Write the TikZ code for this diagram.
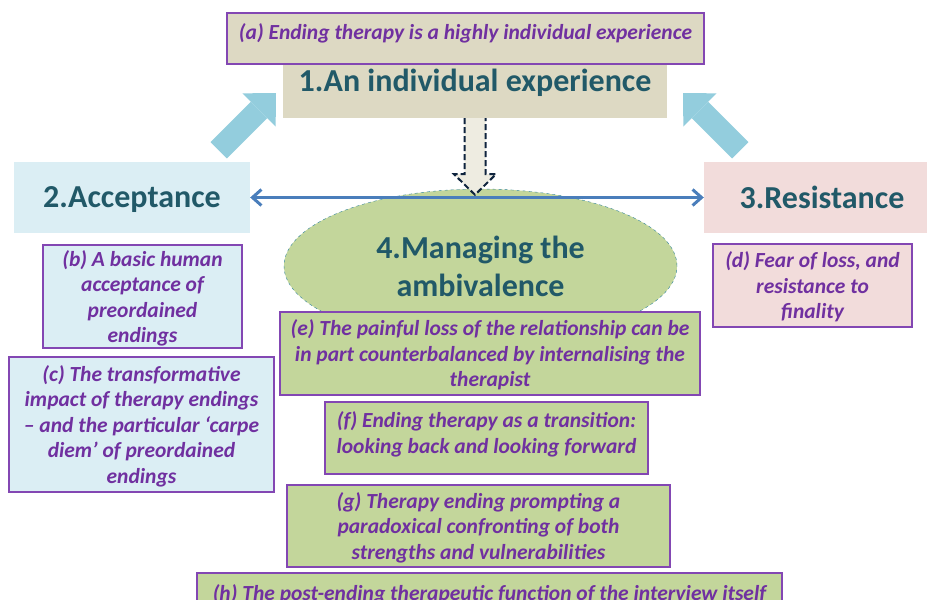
\documentclass[tikz,border=0pt]{standalone}
\usepackage{fontspec}
\setmainfont{Carlito}
\usetikzlibrary{shapes.geometric}
\usetikzlibrary{arrows.meta}
\usetikzlibrary{calc}

\definecolor{beige}{HTML}{DDD9C3}
\definecolor{paleblue}{HTML}{DBEEF4}
\definecolor{palepink}{HTML}{F2DCDB}
\definecolor{palegreen}{HTML}{C3D69B}
\definecolor{skyarrow}{HTML}{93CDDD}
\definecolor{lineblue}{HTML}{4A7EBB}
\definecolor{headteal}{HTML}{215968}
\definecolor{txtpurple}{HTML}{7030A0}
\definecolor{boxpurple}{HTML}{8347B3}
\definecolor{rimteal}{HTML}{31849B}
\definecolor{navy}{HTML}{0F243E}
\definecolor{stone}{HTML}{EEECE1}

\begin{document}
\begin{tikzpicture}
[x=1pt,y=-1pt,%
  headbox/.style={shape=rectangle,inner sep=0pt,text=headteal,align=center,text depth=-3pt,%
    font=\fontsize{32}{38}\selectfont\bfseries},%
  subbox/.style={shape=rectangle,inner sep=0pt,draw=boxpurple,line width=1.5pt,text depth=-2pt,%
    text=txtpurple,align=center,font=\fontsize{21.5}{25.5}\selectfont\bfseries\itshape},%
  bigarrow/.style={line width=23pt,draw=skyarrow,%
    -{Triangle[length=24pt,width=47pt,line width=0pt]}},%
  twoway/.style={line width=3pt,draw=lineblue,%
    {Straight Barb[length=9pt,width=16pt]}-{Straight Barb[length=9pt,width=16pt]}}]
\useasboundingbox (0,0) rectangle (927,600);
%% the four themes
\node[headbox,fill=beige,minimum width=384,minimum height=76] (n1) at (475,80)
  {1.An individual experience};
\node[headbox,fill=paleblue,minimum width=236,minimum height=71] (n2) at (132,197.5)
  {2.Acceptance};
\node[headbox,fill=palepink,minimum width=236,minimum height=71] (n3) at (822,197.5)
  {3.Resistance};
\node[headbox,shape=ellipse,fill=palegreen,draw=rimteal,dashed,thin,text depth=-6pt,%
  minimum width=393,minimum height=154] (n4) at (480.5,266)
  {4.Managing the\\ambivalence};
%%
\node[subbox,fill=beige,minimum width=477,minimum height=51,text depth=14pt] (a) at (465.5,38.5)
  {(a) Ending therapy is a highly individual experience};
%%
\node[subbox,fill=paleblue,minimum width=199,minimum height=103,text depth=-6pt] (b) at (142.5,296.5)
  {(b) A basic human\\acceptance of\\preordained\\endings};
\node[subbox,fill=paleblue,minimum width=265,minimum height=135] (c) at (141.5,424.5)
  {(c) The transformative\\impact of therapy endings\\– and the particular ‘carpe\\diem’ of preordained\\endings};
%%
\node[subbox,fill=palepink,minimum width=199,minimum height=83,text depth=-6pt] (d) at (812.5,285.5)
  {(d) Fear of loss, and\\resistance to\\finality};
%%
\node[subbox,fill=palegreen,minimum width=420,minimum height=83] (e) at (490,353.5)
  {(e) The painful loss of the relationship can be\\in part counterbalanced by internalising the\\therapist};
\node[subbox,fill=palegreen,minimum width=323,minimum height=72,text depth=11pt] (f) at (486.5,438)
  {(f) Ending therapy as a transition:\\looking back and looking forward};
\node[subbox,fill=palegreen,minimum width=383,minimum height=82] (g) at (478.5,526)
  {(g) Therapy ending prompting a\\paradoxical confronting of both\\strengths and vulnerabilities};
\node[subbox,fill=palegreen,minimum width=585,minimum height=40] (h) at (489.5,593)
  {(h) The post-ending therapeutic function of the interview itself};
%% connectors
\draw[twoway] (n2.east) -- (n3.west);
\coordinate (lefttail) at (218.7,150.3);
\coordinate (lefttip) at (276,93);
\coordinate (righttail) at (740.3,150.3);
\coordinate (righttip) at (683,93);
\draw[bigarrow] (lefttail) -- (lefttip);
\draw[bigarrow] (righttail) -- (righttip);
\filldraw[fill=stone,draw=navy,line width=2pt,dash pattern=on 6pt off 3pt]
  ($(n1.south)+(-10.5,0)$) -- ++(0,56) -- ++(-10.5,0)
  -- ($(n1.south |- n4.north)+(0,6)$)
  -- ($(n1.south)+(21,56)$) -- ++(-10.5,0) -- ($(n1.south)+(10.5,0)$);
\end{tikzpicture}
\end{document}
